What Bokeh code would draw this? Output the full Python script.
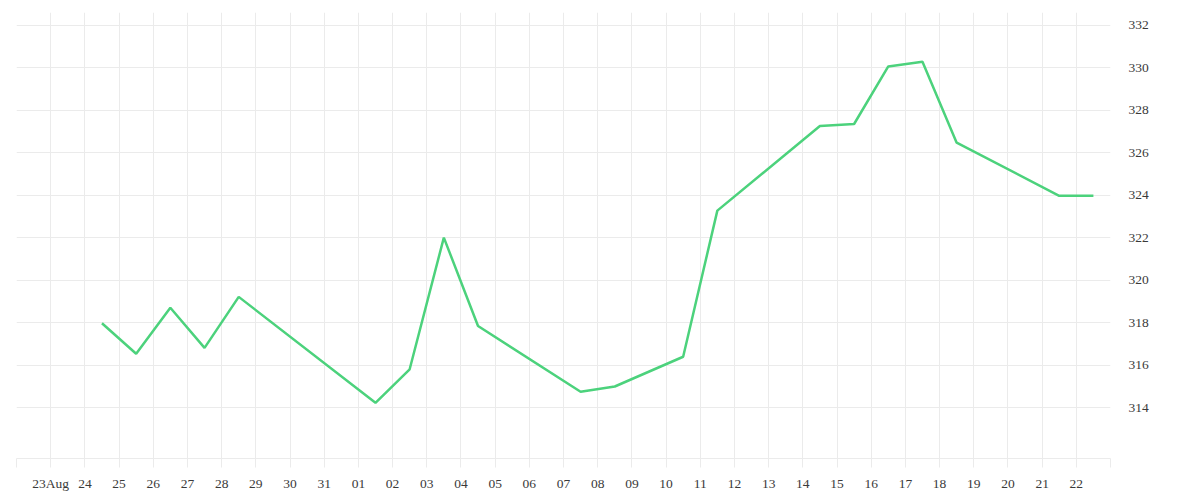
import pandas as pd
from bokeh.plotting import figure
from bokeh.models import FixedTicker, DatetimeTickFormatter, Range1d, LinearAxis, ColumnDataSource
from bokeh.embed import file_html
from bokeh.resources import INLINE

# ---- data ----
dates = ["2023-08-24 12:00", "2023-08-25 12:00", "2023-08-26 12:00", "2023-08-27 12:00",
         "2023-08-28 12:00", "2023-09-01 12:00", "2023-09-02 12:00", "2023-09-03 12:00",
         "2023-09-04 12:00", "2023-09-07 12:00", "2023-09-08 12:00", "2023-09-10 12:00",
         "2023-09-11 12:00", "2023-09-14 12:00", "2023-09-15 12:00", "2023-09-16 12:00",
         "2023-09-17 12:00", "2023-09-18 12:00", "2023-09-21 12:00", "2023-09-22 12:00"]
values = [317.97, 316.53, 318.70, 316.81, 319.21, 314.22, 315.80, 322.00, 317.84, 314.74,
          314.99, 316.39, 323.27, 327.26, 327.35, 330.06, 330.28, 326.47, 323.97, 323.97]

tick_days = pd.date_range("2023-08-22", "2023-09-23", freq="D")
tick_labels = ["", "23Aug", "24", "25", "26", "27", "28", "29", "30", "31",
               "01", "02", "03", "04", "05", "06", "07", "08", "09", "10",
               "11", "12", "13", "14", "15", "16", "17", "18", "19", "20",
               "21", "22", ""]
y_ticks = [314, 316, 318, 320, 322, 324, 326, 328, 330, 332]
y_limits = (311.6, 332.6)

# ---- figure ----
GRID = "#ebebeb"
FONT = "Liberation Serif"
TEXT = "#3a3a3a"

tick_ms = [int(pd.Timestamp(d).value // 10**6) for d in tick_days]

p = figure(x_axis_type="datetime", y_axis_location=None,
           frame_width=1094, frame_height=446,
           min_border_left=16, min_border_top=12, min_border_right=10, min_border_bottom=5,
           output_backend="svg", toolbar_location=None,
           x_range=Range1d(tick_ms[0], tick_ms[-1]),
           y_range=Range1d(*y_limits))
p.outline_line_color = None
p.background_fill_color = "white"
p.border_fill_color = "white"

src = ColumnDataSource(dict(x=pd.to_datetime(dates), y=values))
p.line("x", "y", source=src, line_color="#4CD27C", line_width=2.5)

# x axis
xa = p.xaxis[0]
xa.ticker = FixedTicker(ticks=tick_ms, minor_ticks=[])
xa.formatter = DatetimeTickFormatter(days="%d", hours="%d", months="%d", years="%d")
xa.major_label_overrides = {t: lab for t, lab in zip(tick_ms, tick_labels)}
xa.axis_line_color = GRID
xa.axis_line_width = 1
xa.major_tick_line_color = GRID
xa.major_tick_line_width = 1
xa.major_tick_out = 9
xa.major_tick_in = 0
xa.minor_tick_line_color = None
xa.major_label_standoff = 8
xa.major_label_text_font = FONT
xa.major_label_text_font_size = "13.5px"
xa.major_label_text_color = TEXT

# y axis on the right
ya = LinearAxis(ticker=FixedTicker(ticks=y_ticks, minor_ticks=[]))
ya.axis_line_color = None
ya.major_tick_line_color = None
ya.minor_tick_line_color = None
ya.major_tick_out = 0
ya.major_tick_in = 0
ya.major_label_standoff = 18
ya.major_label_text_font = FONT
ya.major_label_text_font_size = "13.5px"
ya.major_label_text_color = TEXT
p.add_layout(ya, "right")

p.xgrid[0].ticker = FixedTicker(ticks=tick_ms, minor_ticks=[])
p.xgrid[0].grid_line_color = GRID
p.xgrid[0].grid_line_width = 1
p.ygrid[0].ticker = FixedTicker(ticks=y_ticks, minor_ticks=[])
p.ygrid[0].grid_line_color = GRID
p.ygrid[0].grid_line_width = 1

open("out.html", "w").write(file_html(p, INLINE))
